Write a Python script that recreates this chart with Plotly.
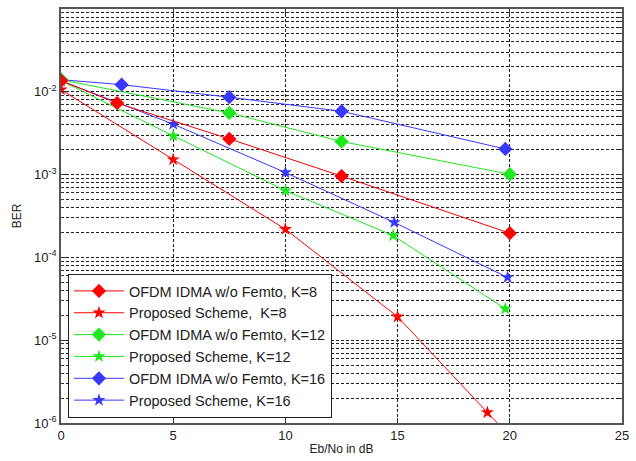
import plotly.graph_objects as go

# ---- data ----
x_ofdm_k8 = [0, 2.5, 7.5, 12.5, 20]
ber_ofdm_k8 = [1.36e-2, 7.3e-3, 2.7e-3, 9.6e-4, 1.96e-4]

x_prop_k8 = [0, 5, 10, 15, 19, 20]
ber_prop_k8 = [1.06e-2, 1.52e-3, 2.19e-4, 1.92e-5, 1.34e-6, 6.9e-7]

x_ofdm_k12 = [0, 7.5, 12.5, 20]
ber_ofdm_k12 = [1.40e-2, 5.56e-3, 2.51e-3, 1.01e-3]

x_prop_k12 = [0, 5, 10, 14.8, 19.8]
ber_prop_k12 = [1.36e-2, 2.94e-3, 6.4e-4, 1.84e-4, 2.40e-5]

x_ofdm_k16 = [0, 2.7, 7.5, 12.5, 19.8]
ber_ofdm_k16 = [1.40e-2, 1.22e-2, 8.6e-3, 5.82e-3, 2.04e-3]

x_prop_k16 = [0, 5, 10, 14.85, 19.9]
ber_prop_k16 = [1.36e-2, 4.07e-3, 1.06e-3, 2.65e-4, 5.73e-5]

names = [
    "OFDM IDMA w/o Femto, K=8",
    "Proposed Scheme,\u00a0 K=8",
    "OFDM IDMA w/o Femto, K=12",
    "Proposed Scheme, K=12",
    "OFDM IDMA w/o Femto, K=16",
    "Proposed Scheme, K=16",
]

y_tickvals = [1e-6, 1e-5, 1e-4, 1e-3, 1e-2]
y_ticktext = ["10<sup>-6</sup>", "10<sup>-5</sup>", "10<sup>-4</sup>",
              "10<sup>-3</sup>", "10<sup>-2</sup>"]
x_tickvals = [0, 5, 10, 15, 20, 25]

RED = "#ff0000"
GREEN = "#1ee81e"
BLUE = "#3838ff"

series = [
    (x_ofdm_k8, ber_ofdm_k8, names[0], RED, "diamond", 11, 1),
    (x_prop_k8, ber_prop_k8, names[1], RED, "star", 10, 2),
    (x_ofdm_k12, ber_ofdm_k12, names[2], GREEN, "diamond", 11, 3),
    (x_prop_k12, ber_prop_k12, names[3], GREEN, "star", 10, 4),
    (x_ofdm_k16, ber_ofdm_k16, names[4], BLUE, "diamond", 11, 5),
    (x_prop_k16, ber_prop_k16, names[5], BLUE, "star", 10, 6),
]

fig = go.Figure()
for xs, ys, nm, col, sym, sz, rank in reversed(series):
    fig.add_trace(go.Scatter(
        x=xs, y=ys, name=nm, mode="lines+markers",
        line=dict(color=col, width=1),
        marker=dict(symbol=sym, size=sz, color=col, line=dict(width=0)),
        legendrank=rank,
    ))

font = "Arial, Liberation Sans, sans-serif"
gridc = "#222222"
fig.update_layout(
    width=636, height=461,
    margin=dict(l=61, r=10, t=7, b=33),
    paper_bgcolor="white", plot_bgcolor="white",
    font=dict(family=font, size=13, color="#222"),
    showlegend=True,
    legend=dict(
        x=0.0124, y=0.36, xanchor="left", yanchor="top",
        bgcolor="white", bordercolor="#222", borderwidth=1,
        font=dict(family=font, size=14.5, color="#222"),
        itemwidth=50, tracegroupgap=0,
    ),
    xaxis=dict(
        range=[0, 25], tickmode="array", tickvals=x_tickvals,
        ticks="inside", ticklen=5, tickcolor="#333",
        showline=True, linecolor="#555", linewidth=1.5, mirror="ticks",
        showgrid=True, gridcolor=gridc, gridwidth=1, griddash="3px,2px",
        zeroline=False,
        title=dict(text="Eb/No in dB", standoff=2, font=dict(size=12)),
        tickfont=dict(size=13),
    ),
    yaxis=dict(
        type="log", range=[-6, -1], tickmode="array",
        tickvals=y_tickvals, ticktext=y_ticktext,
        ticks="inside", ticklen=5, tickcolor="#333",
        showline=True, linecolor="#555", linewidth=1.5, mirror="ticks",
        showgrid=True, gridcolor=gridc, gridwidth=1, griddash="3px,2px",
        zeroline=False,
        minor=dict(dtick="D1", ticks="inside", ticklen=3, tickcolor="#333",
                   showgrid=True, gridcolor=gridc, gridwidth=1, griddash="3px,2px"),
        title=dict(text="BER", standoff=10, font=dict(size=12)),
        tickfont=dict(size=13),
    ),
)

fig.write_html("out.html")
